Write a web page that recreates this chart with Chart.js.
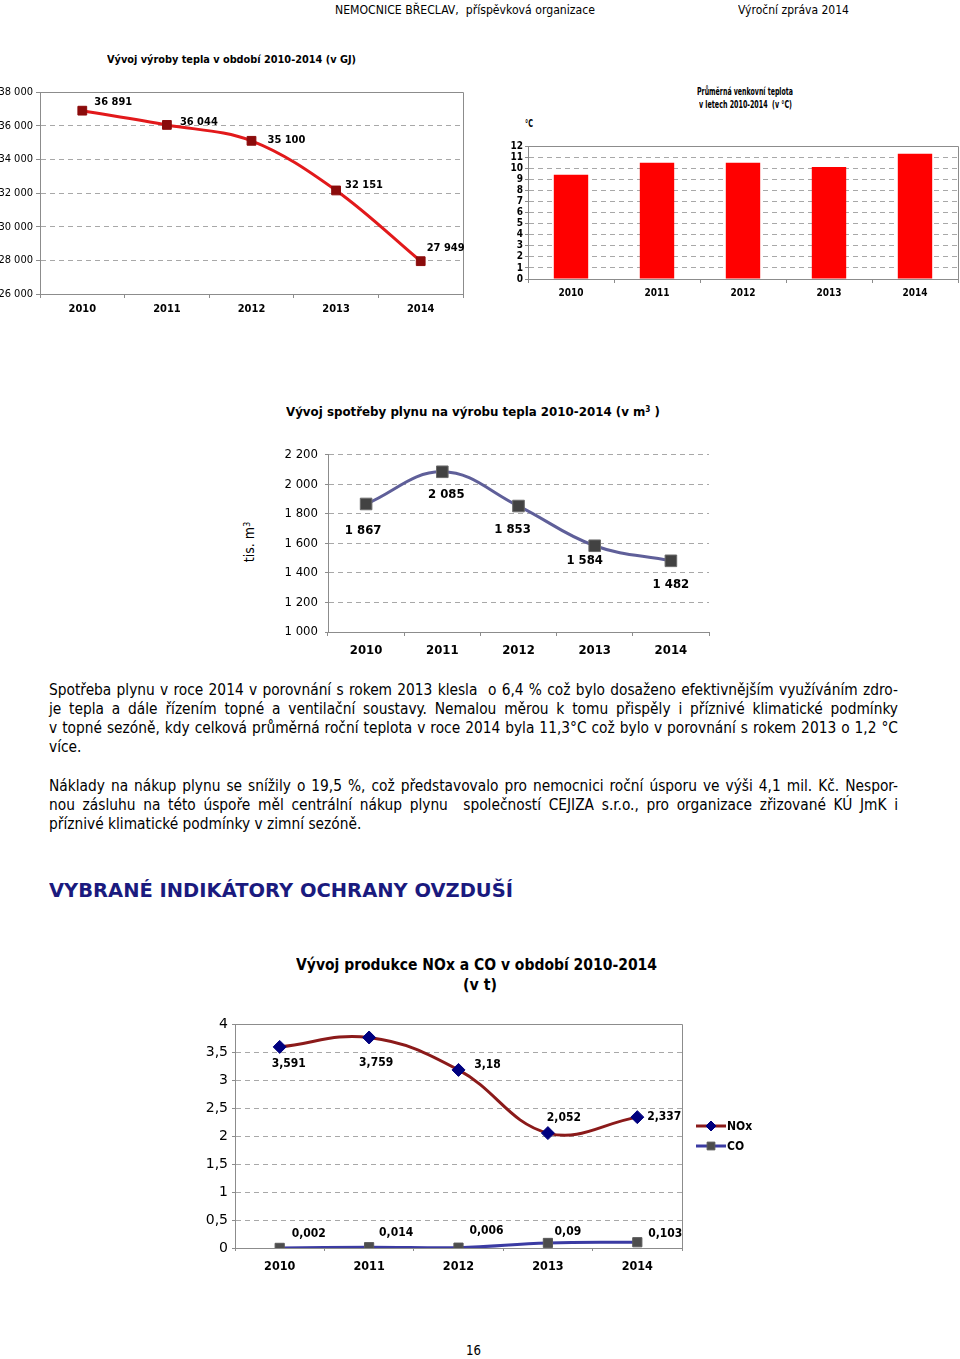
<!DOCTYPE html>
<html><head><meta charset="utf-8">
<script src="https://cdn.jsdelivr.net/npm/chart.js@4/dist/chart.umd.min.js"></script>
<style>
html,body{margin:0;padding:0;background:#fff;}
body{width:960px;height:1359px;position:relative;overflow:hidden;font-family:'DejaVu Sans Condensed','DejaVu Sans',sans-serif;color:#000;}
.t{position:absolute;white-space:pre;line-height:1;}
canvas{position:absolute;}
.b{font-weight:bold;}
.sup{font-size:0.62em;position:relative;top:-0.5em;}
</style></head><body>

<div class="t" style="font-size:13px" data-x="335" data-yc="9" data-w="260">NEMOCNICE BŘECLAV,  příspěvková organizace</div>
<div class="t" style="font-size:13px" data-x="738" data-yc="9" data-w="111">Výroční zpráva 2014</div>

<div class="t b" style="font-size:11px" data-x="107" data-yc="59" data-w="249">Vývoj výroby tepla v období 2010-2014 (v GJ)</div>
<canvas id="c1" width="475" height="245" style="left:0;top:80px"></canvas>

<div class="t b" style="font-size:10px;font-family:'Liberation Sans Narrow','DejaVu Sans Condensed',sans-serif" data-x="697" data-yc="92" data-w="96">Průměrná venkovní teplota</div>
<div class="t b" style="font-size:10px;font-family:'Liberation Sans Narrow','DejaVu Sans Condensed',sans-serif" data-x="699" data-yc="105" data-w="93">v letech 2010-2014  (v °C)</div>
<div class="t b" style="font-size:10px;font-family:'Liberation Sans Narrow','DejaVu Sans Condensed',sans-serif" data-x="525" data-yc="124" data-w="8">°C</div>
<canvas id="c2" width="475" height="175" style="left:485px;top:130px"></canvas>

<div class="t b" style="font-size:13px" data-x="286" data-yc="412" data-w="374">Vývoj spotřeby plynu na výrobu tepla 2010-2014 (v m<span class="sup">3</span> )</div>
<div class="t" id="rot" style="font-size:14px">tis. m<span class="sup">3</span></div>
<canvas id="c3" width="480" height="225" style="left:240px;top:440px"></canvas>

<div class="t jl" data-x="49" data-yc="690.5" data-w="849">Spotřeba plynu v roce 2014 v porovnání s rokem 2013 klesla  o 6,4 % což bylo dosaženo efektivnějším využíváním zdro-</div>
<div class="t jl" data-x="49" data-yc="709.5" data-w="849">je tepla a dále řízením topné a ventilační soustavy. Nemalou měrou k tomu přispěly i příznivé klimatické podmínky</div>
<div class="t jl" data-x="49" data-yc="728.5" data-w="849">v topné sezóně, kdy celková průměrná roční teplota v roce 2014 byla 11,3°C což bylo v porovnání s rokem 2013 o 1,2 °C</div>
<div class="t jl last" data-x="49" data-yc="747.5" data-w="849">více.</div>
<div class="t jl" data-x="49" data-yc="786.5" data-w="849">Náklady na nákup plynu se snížily o 19,5 %, což představovalo pro nemocnici roční úsporu ve výši 4,1 mil. Kč. Nespor-</div>
<div class="t jl" data-x="49" data-yc="805.5" data-w="849">nou zásluhu na této úspoře měl centrální nákup plynu  společností CEJIZA s.r.o., pro organizace zřizované KÚ JmK i</div>
<div class="t jl last" data-x="49" data-yc="824.5" data-w="849">příznivé klimatické podmínky v zimní sezóně.</div>

<div class="t b" style="font-size:19px;font-family:'DejaVu Sans',sans-serif;color:#1a1a7e" data-x="49" data-yc="890" data-w="464">VYBRANÉ INDIKÁTORY OCHRANY OVZDUŠÍ</div>

<div class="t b" style="font-size:15px" data-x="296" data-yc="965" data-w="361">Vývoj produkce NOx a CO v období 2010-2014</div>
<div class="t b" style="font-size:15px" data-x="463" data-yc="985" data-w="34">(v t)</div>
<canvas id="c4" width="590" height="275" style="left:180px;top:1010px"></canvas>

<div class="t" style="font-size:14px" data-x="466" data-yc="1350" data-w="15">16</div>

<script>
// ---------- data ----------
const years = ['2010', '2011', '2012', '2013', '2014'];
const heatGJ = [36891, 36044, 35100, 32151, 27949];
const heatAxis = [26000, 38000, 2000];          // min, max, step
const tempC = [9.4, 10.5, 10.5, 10.1, 11.3];
const tempAxis = [0, 12, 1];
const gasTisM3 = [1867, 2085, 1853, 1584, 1482];
const gasAxis = [1000, 2200, 200];
const noxT = [3.591, 3.759, 3.18, 2.052, 2.337];
const coT = [0.002, 0.014, 0.006, 0.09, 0.103];
const airAxis = [0, 4, 0.5];
const seriesNames = ['NOx', 'CO'];

// ---------- helpers ----------
const fmtSpace = v => String(Math.round(v)).replace(/\B(?=(\d{3})+(?!\d))/g, ' ');
const fmtComma = v => String(v).replace('.', ',');
const COND = "'DejaVu Sans Condensed','DejaVu Sans',sans-serif";
const NARROW = "'Liberation Sans Narrow','DejaVu Sans Condensed',sans-serif";
const SANS = "'DejaVu Sans',sans-serif";
const AX = '#8c8c8c', GRID = '#a8a8a8';

const valueLabels = {
  id: 'valueLabels',
  afterDatasetsDraw(chart) {
    const ctx = chart.ctx;
    chart.data.datasets.forEach((ds, i) => {
      const cfg = ds.valueLabels; if (!cfg) return;
      const meta = chart.getDatasetMeta(i);
      ctx.save();
      ctx.font = cfg.font; ctx.fillStyle = '#000';
      ctx.textAlign = cfg.align; ctx.textBaseline = 'middle';
      meta.data.forEach((el, j) => {
        const o = cfg.offsets[j];
        ctx.fillText(cfg.format(ds.data[j]), el.x + o[0], el.y + o[1]);
      });
      ctx.restore();
    });
  }
};
const frame = {
  id: 'frame',
  beforeDatasetsDraw(chart) {
    const a = chart.chartArea, ctx = chart.ctx;
    ctx.save(); ctx.strokeStyle = AX; ctx.lineWidth = 1;
    ctx.beginPath();
    ctx.moveTo(a.left, a.top + 0.5); ctx.lineTo(a.right + 0.5, a.top + 0.5); ctx.lineTo(a.right + 0.5, a.bottom);
    ctx.stroke(); ctx.restore();
  }
};

function yScale(ax, width, font, tl, pad, cb) {
  const t = { stepSize: ax[2], padding: pad, color: '#000', font: font, autoSkip: false };
  if (cb) t.callback = cb;
  return {
    min: ax[0], max: ax[1],
    afterFit: s => { s.width = width; },
    ticks: t,
    grid: { color: GRID, lineWidth: 1, drawTicks: tl > 0, tickLength: tl, tickColor: AX },
    border: { display: true, color: AX, width: 1, dash: [5, 4] }
  };
}
function xScale(height, font, pad, tl) {
  return {
    offset: true,
    afterFit: s => { s.height = height; },
    ticks: { padding: pad, color: '#000', font: font, maxRotation: 0, autoSkip: false },
    grid: { offset: true, drawOnChartArea: false, drawTicks: true, tickLength: tl, tickColor: AX },
    border: { display: true, color: AX, width: 1 }
  };
}
const base = (pad) => ({
  responsive: false, animation: false, events: [],
  layout: { padding: pad },
  plugins: { legend: { display: false }, tooltip: { enabled: false } }
});

// ---------- chart 1 : heat production ----------
new Chart(document.getElementById('c1'), {
  type: 'line',
  data: { labels: years, datasets: [{
    data: heatGJ, borderColor: '#e2191b', borderWidth: 3, tension: 0.35,
    pointStyle: 'rect', pointRadius: 6.2, pointBackgroundColor: '#8b0b0b', pointBorderColor: '#8b0b0b', pointBorderWidth: 1,
    valueLabels: { font: 'bold 11px ' + COND, align: 'left', format: fmtSpace,
      offsets: [[12, -9], [13, -3], [16, -1], [9, -5], [6, -13]] }
  }]},
  options: Object.assign(base({ top: 12, right: 12, left: 0, bottom: 0 }), {
    scales: {
      x: xScale(31, { family: COND, size: 11, weight: 'bold' }, 5, 4),
      y: yScale(heatAxis, 40, { family: COND, size: 11 }, 4, 3, v => fmtSpace(v))
    }
  }),
  plugins: [frame, valueLabels]
});

// ---------- chart 2 : temperature ----------
new Chart(document.getElementById('c2'), {
  type: 'bar',
  data: { labels: years, datasets: [{ data: tempC, backgroundColor: '#ff0000', borderWidth: 0,
    categoryPercentage: 1, barPercentage: 0.4 }]},
  options: Object.assign(base({ top: 16, right: 2, left: 0, bottom: 0 }), {
    scales: {
      x: xScale(26, { family: NARROW, size: 10, weight: 'bold' }, 4, 4),
      y: yScale(tempAxis, 43, { family: NARROW, size: 10, weight: 'bold' }, 3, 2)
    }
  }),
  plugins: [frame]
});

// ---------- chart 3 : gas consumption ----------
new Chart(document.getElementById('c3'), {
  type: 'line',
  data: { labels: years, datasets: [{
    data: gasTisM3, borderColor: '#5f5f99', borderWidth: 3, tension: 0.4,
    pointStyle: 'rect', pointRadius: 8.2, pointBackgroundColor: '#424242', pointBorderColor: '#6a6a6a', pointBorderWidth: 1,
    valueLabels: { font: 'bold 13px ' + COND, align: 'center', format: fmtSpace,
      offsets: [[-3, 27], [4, 23], [-6, 24], [-10, 15], [0, 24]] }
  }]},
  options: Object.assign(base({ top: 12, right: 11, left: 0, bottom: 0 }), {
    scales: {
      x: xScale(33, { family: COND, size: 13, weight: 'bold' }, 7, 4),
      y: yScale(gasAxis, 88, { family: COND, size: 13 }, 3, 7, v => fmtSpace(v))
    }
  }),
  plugins: [valueLabels]
});

// ---------- chart 4 : NOx & CO ----------
const legend4 = {
  id: 'legend4',
  afterDraw(chart) {
    const a = chart.chartArea, ctx = chart.ctx, H = Chart.helpers;
    const mid = (a.top + a.bottom) / 2;
    chart.data.datasets.forEach((ds, i) => {
      const y = mid - 10 + 20 * i, x0 = a.right + 14;
      ctx.save();
      ctx.strokeStyle = ds.borderColor; ctx.lineWidth = 3;
      ctx.beginPath(); ctx.moveTo(x0, y); ctx.lineTo(x0 + 30, y); ctx.stroke();
      ctx.fillStyle = ds.pointBackgroundColor; ctx.strokeStyle = ds.pointBorderColor; ctx.lineWidth = 1;
      H.drawPoint(ctx, { pointStyle: ds.pointStyle, radius: ds.pointStyle === 'rectRot' ? 5 : 5.5, rotation: 0, borderWidth: 1 }, x0 + 15, y);
      ctx.fillStyle = '#000'; ctx.font = 'bold 12px ' + COND; ctx.textAlign = 'left'; ctx.textBaseline = 'middle';
      ctx.fillText(ds.label, x0 + 31, y + 1);
      ctx.restore();
    });
  }
};
new Chart(document.getElementById('c4'), {
  type: 'line',
  data: { labels: years, datasets: [
    { label: seriesNames[0], data: noxT, borderColor: '#8b1a1a', borderWidth: 3, tension: 0.4,
      pointStyle: 'rectRot', pointRadius: 6.5, pointBackgroundColor: '#00007f', pointBorderColor: '#00007f', pointBorderWidth: 1,
      valueLabels: { font: 'bold 12px ' + COND, align: 'center', format: fmtComma,
        offsets: [[9, 17], [7, 25], [29, -5], [16, -15], [27, 0]] } },
    { label: seriesNames[1], data: coT, borderColor: '#3b3ba3', borderWidth: 3, tension: 0.4,
      pointStyle: 'rect', pointRadius: 6.5, pointBackgroundColor: '#4d4d4d', pointBorderColor: '#5a5a5a', pointBorderWidth: 1,
      valueLabels: { font: 'bold 12px ' + COND, align: 'center', format: fmtComma,
        offsets: [[29, -14], [27, -14], [28, -17], [20, -11], [28, -8]] } }
  ]},
  options: Object.assign(base({ top: 14, right: 88, left: 0, bottom: 0 }), {
    scales: {
      x: xScale(37, { family: COND, size: 12.5, weight: 'bold' }, 8, 3),
      y: yScale(airAxis, 55, { family: SANS, size: 14 }, 3, 4, v => fmtComma(v))
    }
  }),
  plugins: [frame, valueLabels, legend4]
});

// ---------- text layout ----------
function layoutText() {
  // paragraph lines: pick a font size so the longest line almost fills the measure, then justify
  const lines = [...document.querySelectorAll('.jl')];
  const full = lines.filter(el => !el.classList.contains('last'));
  lines.forEach(el => { el.style.fontSize = '14px'; });
  let r = 10;
  full.forEach(el => { r = Math.min(r, +el.dataset.w / el.getBoundingClientRect().width); });
  const fs = Math.min(16, 14 * r * 0.985);
  lines.forEach(el => { el.style.fontSize = fs + 'px'; });
  lines.forEach(el => {
    el.style.left = el.dataset.x + 'px';
    const rc = el.getBoundingClientRect();
    el.style.top = (+el.dataset.yc - rc.height / 2) + 'px';
    if (!el.classList.contains('last')) {
      const n = (el.textContent.match(/ /g) || []).length;
      el.style.wordSpacing = ((+el.dataset.w - rc.width) / n) + 'px';
      const after = el.getBoundingClientRect().width;
      if (after > +el.dataset.w + 0.5) {
        el.style.transformOrigin = '0 50%';
        el.style.transform = 'scaleX(' + (+el.dataset.w / after) + ')';
      }
    }
  });
  document.querySelectorAll('[data-x]:not(.jl)').forEach(el => {
    el.style.left = el.dataset.x + 'px';
    const rc = el.getBoundingClientRect();
    el.style.top = (+el.dataset.yc - rc.height / 2) + 'px';
    if (el.dataset.w) {
      el.style.transformOrigin = '0 50%';
      el.style.transform = 'scaleX(' + (+el.dataset.w / rc.width) + ')';
    }
  });
  const rot = document.getElementById('rot');
  const rr = rot.getBoundingClientRect();
  rot.style.left = (249 - rr.width / 2) + 'px';
  rot.style.top = (542 - rr.height / 2) + 'px';
  rot.style.transform = 'rotate(-90deg)';
}
layoutText();
</script>
</body></html>
